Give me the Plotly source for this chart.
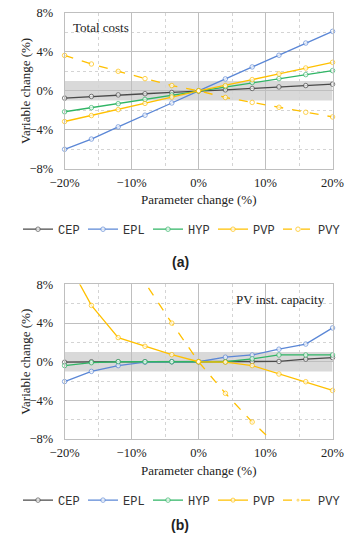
import plotly.graph_objects as go

# ---------------- data ----------------
param = [-20, -16, -12, -8, -4, 0, 4, 8, 12, 16, 20]
series_names = ["CEP", "EPL", "HYP", "PVP", "PVY"]

# (a) Total costs
a_CEP = [-0.75, -0.58, -0.42, -0.30, -0.17, 0, 0.10, 0.24, 0.40, 0.54, 0.68]
a_EPL = [-6.0, -4.95, -3.7, -2.5, -1.25, 0, 1.22, 2.45, 3.65, 4.9, 6.1]
a_HYP = [-2.15, -1.73, -1.32, -0.88, -0.44, 0, 0.44, 0.85, 1.25, 1.66, 2.07]
a_PVP = [-3.15, -2.54, -1.93, -1.29, -0.64, 0, 0.54, 1.15, 1.73, 2.34, 2.92]
a_PVY = [3.63, 2.75, 2.0, 1.25, 0.54, 0, -0.68, -1.19, -1.69, -2.2, -2.68]

# (b) PV inst. capacity
b_CEP = [-0.05, 0.0, 0.0, 0.0, 0.0, 0, 0.0, 0.0, 0.03, 0.27, 0.43]
b_EPL = [-2.05, -1.0, -0.4, -0.05, 0.0, 0, 0.47, 0.7, 1.3, 1.83, 3.5]
b_HYP = [-0.4, -0.1, 0.0, 0.0, 0.0, 0, 0.0, 0.3, 0.7, 0.7, 0.7]
b_PVP = [10.9, 5.83, 2.5, 1.6, 0.73, 0, -0.05, -0.4, -1.27, -2.07, -2.97]
b_PVY = [22.0, 17.0, 12.5, 8.2, 4.0, 0, -3.27, -6.24, -8.9, -11.5, -14.0]

x_ticks = [-20, -10, 0, 10, 20]
x_ticktext = ["\u221220%", "\u221210%", "0%", "10%", "20%"]
y_ticks = [-8, -4, 0, 4, 8]
y_ticktext = ["\u22128%", "\u22124%", "0%", "4%", "8%"]
band = [-1, 1]

colors = {"CEP": "#4a4a4a", "EPL": "#5b87d6", "HYP": "#2fb565", "PVP": "#ffc000", "PVY": "#ffc000"}
dashes = {"CEP": "solid", "EPL": "solid", "HYP": "solid", "PVP": "solid", "PVY": "dash"}

W, H = 357, 550
X0, X1 = 53.5, 342.5
TOP_A, BOT_A = 6, 166
TOP_B, BOT_B = 284.7, 443.3

def py(p):
    return 1 - p / H

SERIF = "Liberation Serif, Times New Roman, serif"
MONO = "Liberation Mono, Courier New, monospace"
fig = go.Figure()

data_a = dict(zip(series_names, [a_CEP, a_EPL, a_HYP, a_PVP, a_PVY]))
data_b = dict(zip(series_names, [b_CEP, b_EPL, b_HYP, b_PVP, b_PVY]))

for axn, legend, data in [("", "legend", data_a), ("2", "legend2", data_b)]:
    for name in series_names:
        vals = data[name]
        sizes = [4.5 if -8 <= v <= 8 else 0 for v in vals]
        fig.add_trace(go.Scatter(
            x=param, y=vals, name=name, mode="lines+markers",
            xaxis="x" + axn, yaxis="y" + axn, legend=legend,
            line=dict(color=colors[name], width=1.3, dash=dashes[name]),
            marker=dict(symbol="circle", size=sizes, color="white",
                        line=dict(color=colors[name], width=1)),
            cliponaxis=False,
        ))

grid_major = "#bfbfbf"
grid_minor = "#d4d4d4"

def xaxis(dom_anchor):
    return dict(domain=[X0 / W, X1 / W], range=[-20, 20], anchor=dom_anchor,
                tickvals=x_ticks, ticktext=x_ticktext, showgrid=True,
                gridcolor=grid_major, gridwidth=1, zeroline=False,
                showline=True, linecolor=grid_major, mirror=True,
                ticks="", ticklen=0, ticklabelstandoff=2,
                tickfont=dict(family=SERIF, size=12.5, color="#222"),
                minor=dict(tickvals=[-15, -5, 5, 15], showgrid=True,
                           gridcolor=grid_minor, griddash="dot", gridwidth=1))

def yaxis(dom, anchor):
    return dict(domain=dom, range=[-8, 8], anchor=anchor,
                tickvals=y_ticks, ticktext=y_ticktext, showgrid=True,
                gridcolor=grid_major, gridwidth=1, zeroline=False,
                showline=True, linecolor=grid_major, mirror=True,
                ticks="", ticklen=0, ticklabelstandoff=8,
                tickfont=dict(family=SERIF, size=12.5, color="#222"),
                minor=dict(tickvals=[-6, -2, 2, 6], showgrid=True,
                           gridcolor=grid_minor, griddash="dot", gridwidth=1))

legend_common = dict(orientation="h", xanchor="center", x=0.5, yanchor="middle",
                     entrywidth=20, entrywidthmode="pixels", itemwidth=30,
                     font=dict(family=MONO, size=12, color="#333"),
                     bgcolor="rgba(0,0,0,0)", itemclick=False)

fig.update_layout(
    width=W, height=H, margin=dict(l=0, r=0, t=0, b=0),
    paper_bgcolor="white", plot_bgcolor="white", showlegend=True,
    xaxis=xaxis("y"), yaxis=yaxis([py(BOT_A), py(TOP_A)], "x"),
    xaxis2=xaxis("y2"), yaxis2=yaxis([py(BOT_B), py(TOP_B)], "x2"),
    legend=dict(y=py(228), **legend_common),
    legend2=dict(y=py(506), **legend_common),
    shapes=[
        dict(type="rect", xref="x", yref="y", x0=-20, x1=20, y0=band[0], y1=band[1],
             fillcolor="#d9d9d9", line=dict(width=0), layer="below"),
        dict(type="rect", xref="x2", yref="y2", x0=-20, x1=20, y0=band[0], y1=band[1],
             fillcolor="#d9d9d9", line=dict(width=0), layer="below"),
    ],
)

ann = []
for top, bot, label, title, tx, tanchor in [
        (TOP_A, BOT_A, "(a)", "Total costs", X0 + 7, "left"),
        (TOP_B, BOT_B, "(b)", "PV inst. capacity", X1 - 6, "right")]:
    ann.append(dict(text="Variable change (%)", xref="paper", yref="paper",
                    x=12 / W, y=py((top + bot) / 2), textangle=-90, showarrow=False,
                    xanchor="center", yanchor="middle",
                    font=dict(family=SERIF, size=13, color="#222")))
    ann.append(dict(text="Parameter change (%)", xref="paper", yref="paper",
                    x=(X0 + X1) / 2 / W, y=py(bot + 32), showarrow=False,
                    xanchor="center", yanchor="middle",
                    font=dict(family=SERIF, size=13, color="#222")))
    ann.append(dict(text=title, xref="paper", yref="paper",
                    x=tx / W, y=py(top + 15), showarrow=False,
                    xanchor=tanchor, yanchor="middle",
                    font=dict(family=SERIF, size=13, color="#222")))
    ann.append(dict(text="<b>" + label + "</b>", xref="paper", yref="paper",
                    x=178 / W, y=py(bot + 96 if label == "(a)" else bot + 88), showarrow=False,
                    xanchor="center", yanchor="middle",
                    font=dict(family="Liberation Sans", size=14, color="#222")))
fig.update_layout(annotations=ann)

fig.write_html("out.html", post_script="document.body.style.margin='0';",
               config={"displayModeBar": False})
